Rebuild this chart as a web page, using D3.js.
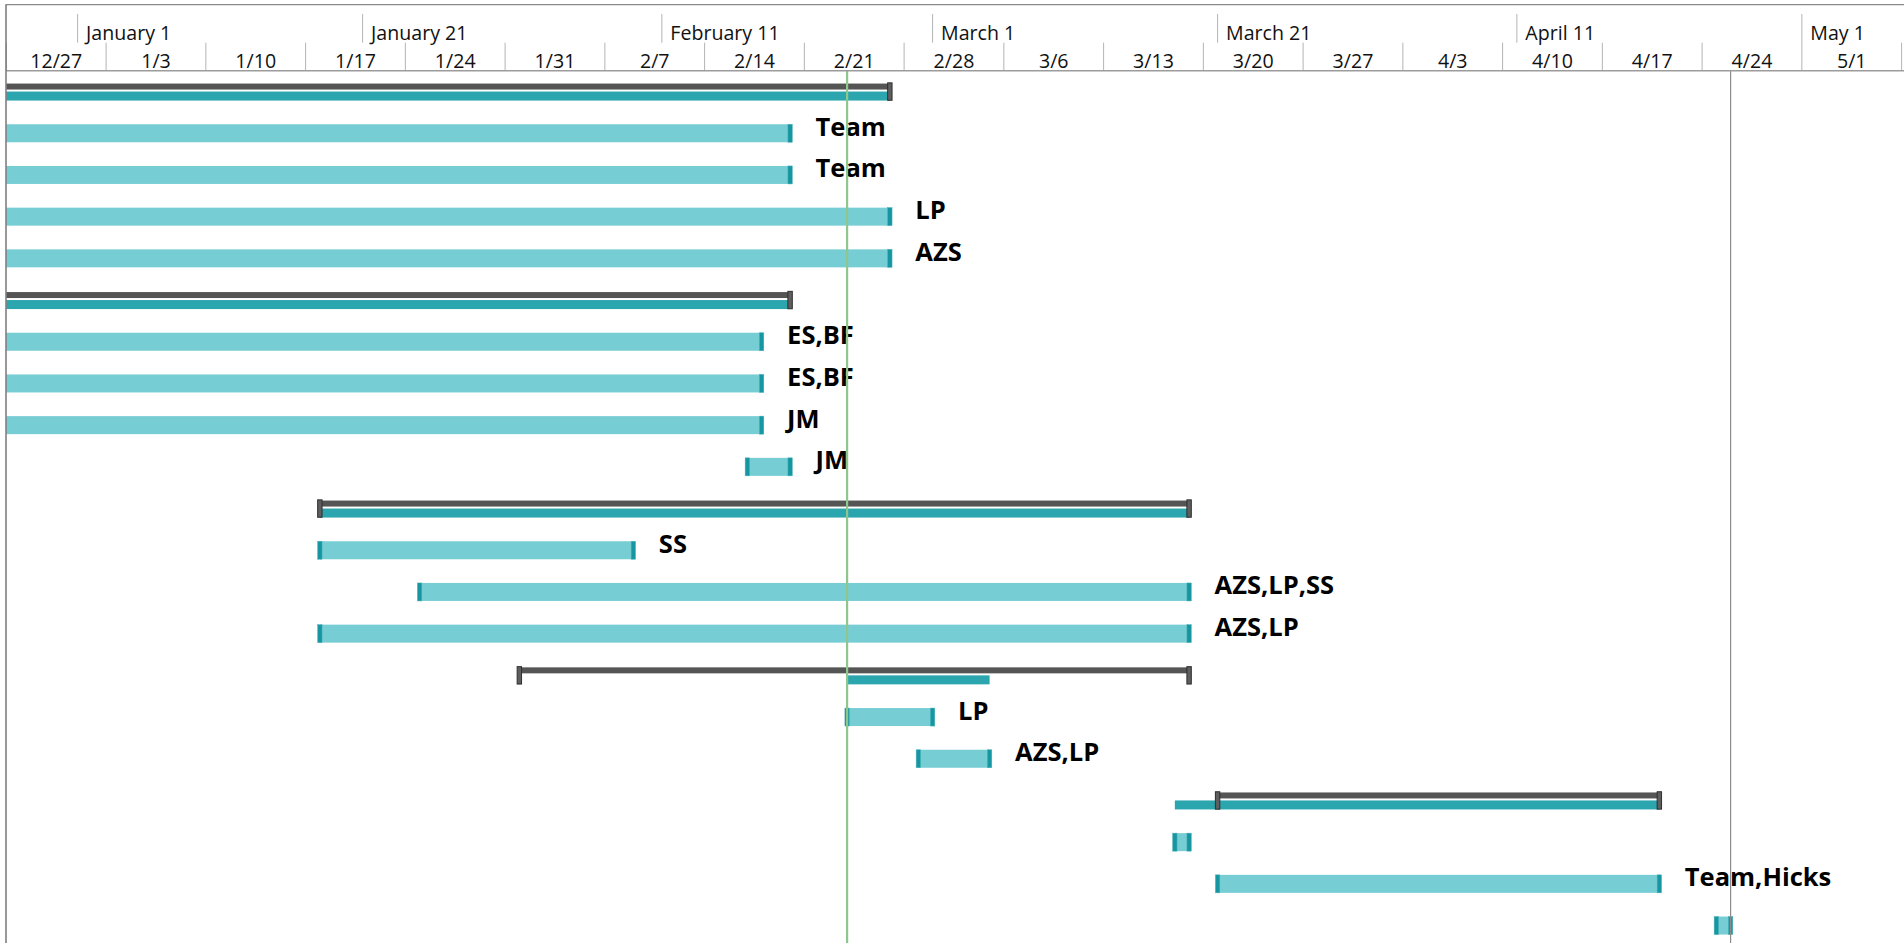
<!DOCTYPE html>
<html><head><meta charset="utf-8">
<script src="https://cdn.jsdelivr.net/npm/d3@7"></script>
<style>
html,body{margin:0;padding:0;background:#fff;overflow:hidden}
svg{display:block}
</style></head><body>
<svg id="chart" width="1904" height="943"></svg>
<script>
// ---------- data ----------
const viewStart = "2015-12-27";
const viewEnd = "2016-05-08";
const weekStarts = ["2015-12-27","2016-01-03","2016-01-10","2016-01-17","2016-01-24","2016-01-31","2016-02-07","2016-02-14","2016-02-21","2016-02-28","2016-03-06","2016-03-13","2016-03-20","2016-03-27","2016-04-03","2016-04-10","2016-04-17","2016-04-24","2016-05-01"];
const weekLabels = ["12/27","1/3","1/10","1/17","1/24","1/31","2/7","2/14","2/21","2/28","3/6","3/13","3/20","3/27","4/3","4/10","4/17","4/24","5/1"];
const tierDates = ["2016-01-01","2016-01-21","2016-02-11","2016-03-01","2016-03-21","2016-04-11","2016-05-01"];
const tierLabels = ["January 1","January 21","February 11","March 1","March 21","April 11","May 1"];

const rowKinds  = ["summary","task","task","task","task","summary","task","task","task","task","summary","task","task","task","summary","task","task","summary","task","task","task"];
const rowStarts = ["2015-12-07","2015-12-07","2015-12-07","2015-12-14","2015-12-14","2015-12-07","2015-12-07","2015-12-07","2015-12-07","2016-02-17","2016-01-18","2016-01-18","2016-01-25","2016-01-18","2016-02-01","2016-02-24","2016-02-29","2016-03-21","2016-03-18","2016-03-21","2016-04-25"];
const rowEnds   = ["2016-02-27","2016-02-20","2016-02-20","2016-02-27","2016-02-27","2016-02-20","2016-02-18","2016-02-18","2016-02-18","2016-02-20","2016-03-19","2016-02-09","2016-03-19","2016-03-19","2016-03-19","2016-03-01","2016-03-05","2016-04-21","2016-03-19","2016-04-21","2016-04-26"];
const rowLabels = ["","Team","Team","LP","AZS","","ES,BF","ES,BF","JM","JM","","SS","AZS,LP,SS","AZS,LP","","LP","AZS,LP","","","Team,Hicks",""];
// rolled-up span shown under each summary bar
const rollupStarts = ["2015-12-07",null,null,null,null,"2015-12-07",null,null,null,null,"2016-01-18",null,null,null,"2016-02-24",null,null,"2016-03-18",null,null,null];
const rollupEnds   = ["2016-02-27",null,null,null,null,"2016-02-20",null,null,null,null,"2016-03-19",null,null,null,"2016-03-05",null,null,"2016-04-21",null,null,null];
const statusDate = "2016-02-24";
const deadlineDate = "2016-04-26";

// ---------- setup ----------
const W = 1904, H = 943;
const parse = d3.utcParse("%Y-%m-%d");
const left = 6.35, pxPerDay = 14.25;
const x = d3.scaleUtc()
  .domain([parse(viewStart), parse(viewEnd)])
  .range([left, left + pxPerDay * 133]);

const headerTop = 4.7, tierMid = 42.7, headerBottom = 70.7, rowPitch = 41.7;
const rows = d3.range(rowKinds.length);
const y = d3.scaleBand().domain(rows).range([headerBottom, headerBottom + rowPitch * rows.length]).padding(0);
const cy = i => y(i) + y.bandwidth() / 2;

const svg = d3.select("#chart");
const FONT = "'Open Sans', 'Noto Sans', sans-serif";

svg.append("defs").append("clipPath").attr("id", "clip")
  .append("rect").attr("x", left).attr("y", headerBottom).attr("width", W - left).attr("height", H - headerBottom);

// ---------- header ----------
const hdr = svg.append("g");
hdr.selectAll("line.tier").data(tierDates).join("line")
  .attr("x1", d => x(parse(d))).attr("x2", d => x(parse(d)))
  .attr("y1", 14).attr("y2", tierMid)
  .attr("stroke", "#b4b4b4").attr("stroke-width", 1);
hdr.selectAll("text.tier").data(tierDates).join("text")
  .attr("x", d => x(parse(d)) + 8.5).attr("y", 39.5)
  .attr("font-family", FONT).attr("font-size", 19.6).attr("fill", "#111")
  .text((d, i) => tierLabels[i]);
const weekBounds = weekStarts.map(parse).concat([parse(viewEnd)]);
hdr.selectAll("line.week").data(weekBounds).join("line")
  .attr("x1", d => x(d)).attr("x2", d => x(d))
  .attr("y1", tierMid).attr("y2", headerBottom)
  .attr("stroke", "#b4b4b4").attr("stroke-width", 1);
hdr.selectAll("text.week").data(weekStarts).join("text")
  .attr("x", (d, i) => (x(weekBounds[i]) + x(weekBounds[i + 1])) / 2)
  .attr("y", 67.8).attr("text-anchor", "middle")
  .attr("font-family", FONT).attr("font-size", 19.6).attr("fill", "#111")
  .text((d, i) => weekLabels[i]);

// ---------- bars ----------
const g = svg.append("g").attr("clip-path", "url(#clip)");
const tasks = rows.filter(i => rowKinds[i] === "task");
const sums = rows.filter(i => rowKinds[i] === "summary");

g.selectAll("rect.task").data(tasks).join("rect")
  .attr("x", i => x(parse(rowStarts[i])))
  .attr("width", i => x(parse(rowEnds[i])) - x(parse(rowStarts[i])))
  .attr("y", i => cy(i) - 9).attr("height", 18)
  .attr("fill", "#76cdd4");
const capW = 4.4;
const capData = [];
tasks.forEach(i => { capData.push({i, d: rowStarts[i]}); capData.push({i, d: rowEnds[i]}); });
g.selectAll("rect.cap").data(capData).join("rect")
  .attr("x", c => x(parse(c.d)) - capW / 2).attr("width", capW)
  .attr("y", c => cy(c.i) - 9).attr("height", 18)
  .attr("fill", "#1696a0").attr("stroke", "#4fb3bb").attr("stroke-width", 0.5);

g.selectAll("rect.roll").data(sums).join("rect")
  .attr("x", i => x(parse(rollupStarts[i])))
  .attr("width", i => x(parse(rollupEnds[i])) - x(parse(rollupStarts[i])))
  .attr("y", i => cy(i)).attr("height", 9)
  .attr("fill", "#2ba5ae");
g.selectAll("rect.sum").data(sums).join("rect")
  .attr("x", i => x(parse(rowStarts[i])))
  .attr("width", i => x(parse(rowEnds[i])) - x(parse(rowStarts[i])))
  .attr("y", i => cy(i) - 8).attr("height", 6)
  .attr("fill", "#555555");
const sumCaps = [];
sums.forEach(i => { sumCaps.push({i, d: rowStarts[i]}); sumCaps.push({i, d: rowEnds[i]}); });
g.selectAll("rect.scap").data(sumCaps).join("rect")
  .attr("x", c => x(parse(c.d)) - capW / 2).attr("width", capW)
  .attr("y", c => cy(c.i) - 8.7).attr("height", 17.4)
  .attr("fill", "#5e5e5e").attr("stroke", "#2e2e2e").attr("stroke-width", 1);

svg.append("g").selectAll("text").data(tasks.filter(i => rowLabels[i])).join("text")
  .attr("x", i => x(parse(rowEnds[i])) + 25.5)
  .attr("y", i => cy(i) + 2.5)
  .attr("font-family", FONT).attr("font-weight", 700).attr("font-size", 25.5).attr("fill", "#000")
  .text(i => rowLabels[i]);

// ---------- vertical markers ----------
svg.append("line")
  .attr("x1", x(parse(deadlineDate))).attr("x2", x(parse(deadlineDate)))
  .attr("y1", headerBottom).attr("y2", H)
  .attr("stroke", "#8c8c8c").attr("stroke-width", 1.2);
svg.append("line")
  .attr("x1", x(parse(statusDate))).attr("x2", x(parse(statusDate)))
  .attr("y1", headerBottom).attr("y2", H)
  .attr("stroke", "#8fc690").attr("stroke-width", 2.2);

// ---------- frame ----------
svg.append("line").attr("x1", left).attr("x2", W).attr("y1", headerBottom).attr("y2", headerBottom)
  .attr("stroke", "#9c9c9c").attr("stroke-width", 1.5);
svg.append("line").attr("x1", 5.5).attr("x2", W).attr("y1", headerTop).attr("y2", headerTop)
  .attr("stroke", "#8a8a8a").attr("stroke-width", 1.3);
svg.append("line").attr("x1", 6).attr("x2", 6).attr("y1", headerTop).attr("y2", H)
  .attr("stroke", "#6e6e6e").attr("stroke-width", 1.4);
</script>
</body></html>
